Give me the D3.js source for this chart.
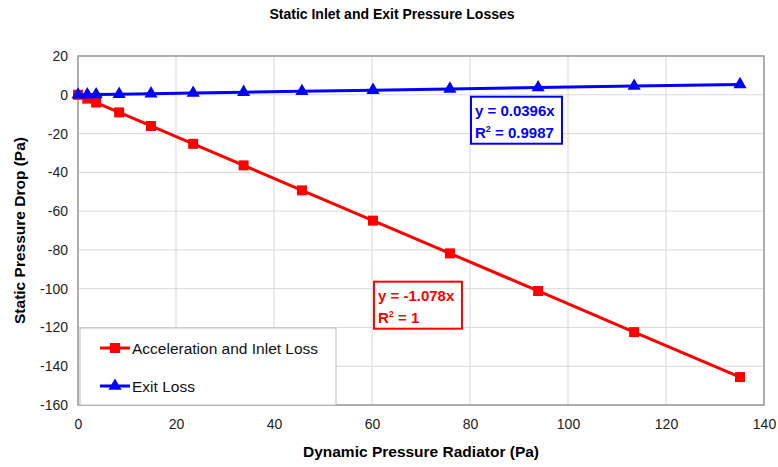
<!DOCTYPE html>
<html>
<head>
<meta charset="utf-8">
<script src="https://cdn.jsdelivr.net/npm/d3@7"></script>
<style>
  body { margin: 0; background: #fff; }
  text { font-family: "Liberation Sans", Arial, sans-serif; }
  .grid line { stroke: #d9d9d9; stroke-width: 1; }
  .axis text { font-size: 14px; fill: #222; }
  .axis path, .axis line { display: none; }
</style>
</head>
<body>
<div id="chart"></div>
<script>
const dynPressure = [0, 1.9, 3.7, 8.4, 14.9, 23.5, 33.8, 45.7, 60.2, 75.9, 93.9, 113.5, 135.1];
const accelInletLoss = [0, -2.0, -4.0, -9.1, -16.1, -25.3, -36.4, -49.3, -64.9, -81.8, -101.2, -122.4, -145.6];
const exitLoss = [0, 0.07, 0.15, 0.33, 0.59, 0.93, 1.34, 1.81, 2.38, 3.0, 3.72, 4.49, 5.35];
const xTicks = [0, 20, 40, 60, 80, 100, 120, 140];
const yTicks = [20, 0, -20, -40, -60, -80, -100, -120, -140, -160];
const seriesNames = ['Acceleration and Inlet Loss', 'Exit Loss'];
const trendLabels = [['y = -1.078x', 'R² = 1'], ['y = 0.0396x', 'R² = 0.9987']];

const width = 778, height = 467;
const margin = { top: 56, right: 14, bottom: 62, left: 78 };
const w = width - margin.left - margin.right;
const h = height - margin.top - margin.bottom;

const svg = d3.select('#chart').append('svg')
    .attr('width', width)
    .attr('height', height);

const g = svg.append('g')
    .attr('transform', `translate(${margin.left},${margin.top})`);

const x = d3.scaleLinear().domain([0, 140]).range([0, w]);
const y = d3.scaleLinear().domain([-160, 20]).range([h, 0]);

// gridlines
g.append('g').attr('class', 'grid')
    .selectAll('line').data(xTicks).join('line')
    .attr('x1', d => x(d)).attr('x2', d => x(d))
    .attr('y1', 0).attr('y2', h);
g.append('g').attr('class', 'grid')
    .selectAll('line').data(yTicks).join('line')
    .attr('x1', 0).attr('x2', w)
    .attr('y1', d => y(d)).attr('y2', d => y(d));

// frame
g.append('rect')
    .attr('width', w).attr('height', h)
    .attr('fill', 'none').attr('stroke', '#999').attr('stroke-width', 1.5);

// Axes (plain hyphen for negatives, like the original)
g.append('g').attr('class', 'axis')
    .attr('transform', `translate(0,${h})`)
    .call(d3.axisBottom(x).tickValues(xTicks).tickFormat(d => String(d)).tickSize(0).tickPadding(14));
g.append('g').attr('class', 'axis')
    .call(d3.axisLeft(y).tickValues(yTicks).tickFormat(d => String(d)).tickSize(0).tickPadding(10));

// Title and axis labels
svg.append('text')
    .attr('x', 392).attr('y', 19)
    .attr('text-anchor', 'middle')
    .style('font-size', '14px').style('font-weight', 'bold')
    .text('Static Inlet and Exit Pressure Losses');

svg.append('text')
    .attr('x', margin.left + w / 2).attr('y', 457)
    .attr('text-anchor', 'middle')
    .style('font-size', '15.5px').style('font-weight', 'bold')
    .text('Dynamic Pressure Radiator (Pa)');

svg.append('text')
    .attr('transform', 'rotate(-90)')
    .attr('x', -(margin.top + h / 2)).attr('y', 25)
    .attr('text-anchor', 'middle')
    .style('font-size', '15.5px').style('font-weight', 'bold')
    .text('Static Pressure Drop (Pa)');

const series = [
    { name: seriesNames[0], values: accelInletLoss, color: '#ff0000', marker: d3.symbolSquare, size: 100 },
    { name: seriesNames[1], values: exitLoss, color: '#0000ff', marker: d3.symbolTriangle, size: 75 }
];

const line = d3.line()
    .x(d => x(d[0]))
    .y(d => y(d[1]));

series.forEach(s => {
    const pts = dynPressure.map((v, i) => [v, s.values[i]]);
    g.append('path')
        .datum(pts)
        .attr('fill', 'none')
        .attr('stroke', s.color)
        .attr('stroke-width', 3)
        .attr('d', line);
    g.selectAll(null).data(pts).join('path')
        .attr('transform', d => `translate(${x(d[0])},${y(d[1])})`)
        .attr('d', d3.symbol().type(s.marker).size(s.size))
        .attr('fill', s.color);
});

// trendline equation boxes
const boxes = [
    { pos: [60.4, -96.4], lines: trendLabels[0], color: '#ff0000', bw: 88 },
    { pos: [80.2, -1.0], lines: trendLabels[1], color: '#0000ff', bw: 91 }
];
boxes.forEach(b => {
    const bg = g.append('g')
        .attr('transform', `translate(${x(b.pos[0])},${y(b.pos[1])})`);
    bg.append('rect')
        .attr('width', b.bw).attr('height', 47)
        .attr('fill', '#fff').attr('stroke', b.color).attr('stroke-width', 2);
    b.lines.forEach((t, i) => {
        const txt = bg.append('text')
            .attr('x', 4).attr('y', 19 + i * 22)
            .attr('fill', b.color)
            .style('font-size', '15px').style('font-weight', 'bold');
        if (t.startsWith('R²')) {
            txt.append('tspan').text('R');
            txt.append('tspan').attr('dy', -6).style('font-size', '9px').text('2');
            txt.append('tspan').attr('dy', 6).text(t.slice(2));
        } else {
            txt.text(t);
        }
    });
});

// Legend
const legend = g.append('g').attr('transform', 'translate(2,272)');
legend.append('rect')
    .attr('width', 256).attr('height', h - 272)
    .attr('fill', '#fff').attr('stroke', '#bbb').attr('stroke-width', 1);
series.forEach((s, i) => {
    const ly = 20 + i * 38;
    legend.append('line')
        .attr('x1', 20).attr('x2', 50)
        .attr('y1', ly).attr('y2', ly)
        .attr('stroke', s.color).attr('stroke-width', 3);
    legend.append('path')
        .attr('transform', `translate(35,${ly})`)
        .attr('d', d3.symbol().type(s.marker).size(s.size))
        .attr('fill', s.color);
    legend.append('text')
        .attr('x', 52).attr('y', ly + 6)
        .style('font-size', '15.5px')
        .attr('fill', '#111')
        .text(s.name);
});
</script>
</body>
</html>
